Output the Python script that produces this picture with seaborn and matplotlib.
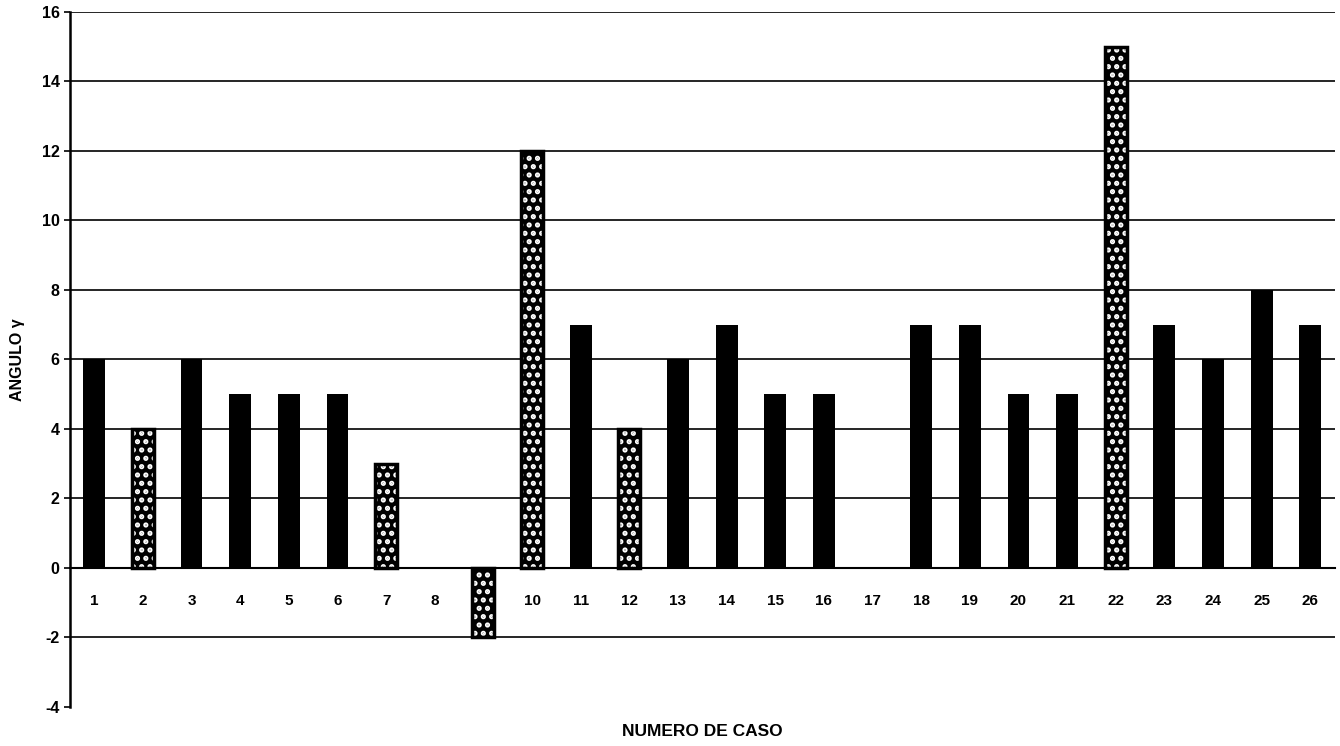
import pandas as pd
import numpy as np
import matplotlib.pyplot as plt
import seaborn as sns

# Values
casos = [str(i) for i in range(1, 27)]
angulo = [6, 4, 6, 5, 5, 5, 3, 0, -2, 12, 7, 4, 6, 7, 5, 5, 0, 7, 7, 5, 5, 15, 7, 6, 8, 7]
# cases drawn with the dotted pattern
casos_trama = ['2', '7', '9', '10', '12', '22']
y_ticks = [-4, -2, 0, 2, 4, 6, 8, 10, 12, 14, 16]

df = pd.DataFrame({'Caso': casos, 'Angulo': angulo})

sns.set_style('white')
plt.rcParams['font.family'] = ['Liberation Sans', 'DejaVu Sans']
plt.rcParams['font.weight'] = 'bold'
plt.rcParams['text.color'] = 'black'
plt.rcParams['axes.labelcolor'] = 'black'
plt.rcParams['xtick.color'] = 'black'
plt.rcParams['ytick.color'] = 'black'
plt.rcParams['axes.unicode_minus'] = False
plt.rcParams['hatch.linewidth'] = 2.5

fig = plt.figure(figsize=(13.4, 7.46), dpi=100)
ax = fig.add_axes([0.0522, 0.0523, 0.9438, 0.9317])

sns.barplot(data=df, x='Caso', y='Angulo', color='black', width=0.45,
            saturation=1, ax=ax, zorder=3)

# dotted pattern: black bar with white dots
for patch, caso in zip(ax.patches, casos):
    patch.set_linewidth(0)
    if caso in casos_trama:
        patch.set_facecolor('black')
        patch.set_edgecolor('white')
        patch.set_hatch('..')

# black outline around the dotted bars
n_bars = len(ax.patches)
df_trama = df.assign(Angulo=df['Angulo'].where(df['Caso'].isin(casos_trama), 0))
sns.barplot(data=df_trama, x='Caso', y='Angulo', width=0.45, fill=False,
            edgecolor='black', linewidth=2.5, ax=ax, zorder=4)
for patch, caso in zip(ax.patches[n_bars:], casos):
    if caso not in casos_trama:
        patch.set_visible(False)

ax.set_xlim(-0.5, len(casos) - 0.5)
ax.set_ylim(-4, 16)
ax.set_yticks(y_ticks)
ax.yaxis.grid(True, color='black', linewidth=1.2, zorder=1)
ax.set_axisbelow(True)
ax.yaxis.get_gridlines()[0].set_visible(False)

ax.spines['top'].set_visible(False)
ax.spines['right'].set_visible(False)
ax.spines['bottom'].set_position(('data', 0))
ax.spines['bottom'].set_linewidth(1.5)
ax.spines['bottom'].set_color('black')
ax.spines['left'].set_linewidth(1.8)
ax.spines['left'].set_color('black')

ax.set_xticks(np.arange(-0.5, len(casos), 1), minor=True)
ax.tick_params(axis='x', which='major', length=0, pad=19, labelsize=11)
ax.tick_params(axis='x', which='minor', length=5, width=1.2, color='black', direction='out')
ax.tick_params(axis='y', length=4, width=1.2, color='black', direction='out', labelsize=11.5, left=True)

ax.set_xlabel('NUMERO DE CASO', fontsize=12.5, fontweight='bold')
ax.set_ylabel('ANGULO γ', fontsize=11.5, fontweight='bold', labelpad=12)
ax.xaxis.set_label_coords(0.5, -0.024)

plt.savefig('out.png', dpi=100)
plt.close()
